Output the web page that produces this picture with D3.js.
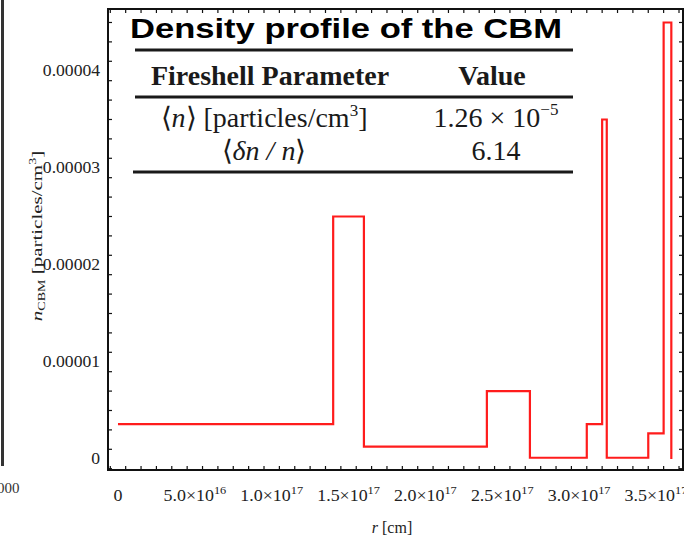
<!DOCTYPE html>
<html>
<head>
<meta charset="utf-8">
<script src="https://cdn.jsdelivr.net/npm/d3@7"></script>
<style>
  body { margin: 0; background: #fff; }
  svg { display: block; }
</style>
</head>
<body>
<div id="chart"></div>
<script>
// step profile of the CBM density: bin edges (cm) and density per bin
var rEdges = [0, 1.4e17, 1.6e17, 2.4e17, 2.68e17, 3.05e17, 3.15e17, 3.18e17, 3.45e17, 3.55e17, 3.6e17];
var density = [3.6e-6, 2.5e-5, 1.27e-6, 7.0e-6, 1.3e-7, 3.6e-6, 3.5e-5, 1.3e-7, 2.65e-6, 4.5e-5];

var xTicks = [0, 5e16, 1e17, 1.5e17, 2e17, 2.5e17, 3e17, 3.5e17];
var xTickMant = ["0", "5.0", "1.0", "1.5", "2.0", "2.5", "3.0", "3.5"];
var xTickExp = ["", "16", "17", "17", "17", "17", "17", "17"];
var yTicks = [0, 1e-5, 2e-5, 3e-5, 4e-5];
var yTickLabels = ["0", "0.00001", "0.00002", "0.00003", "0.00004"];

var tableHeader = ["Fireshell Parameter", "Value"];
var tableValues = ["1.26", "6.14"];

var width = 684;
var height = 539;
var plotLeft = 108, plotRight = 683, plotTop = 9, plotBottom = 470;
var serif = "'Liberation Serif', 'Times New Roman', serif";

var svg = d3.select('#chart')
    .append('svg')
    .attr('width', width)
    .attr('height', height);

svg.append('rect').attr('width', width).attr('height', height).attr('fill', '#fff');

var x = d3.scaleLinear()
    .domain([-6.5e15, 3.676e17])
    .range([plotLeft, plotRight]);

var y = d3.scaleLinear()
    .domain([-1.134e-6, 4.639e-5])
    .range([plotBottom, plotTop]);

// cut-off edge of the neighbouring panel
svg.append('line')
    .attr('x1', 2.5).attr('x2', 2.5).attr('y1', 0).attr('y2', 466)
    .attr('stroke', '#333').attr('stroke-width', 3);
svg.append('text')
    .attr('x', -3).attr('y', 493)
    .attr('font-family', serif).attr('font-size', 15)
    .attr('fill', '#333')
    .text('000');

// ticks, all pointing inside the frame
var xMinor = d3.range(-0.5e16, 3.67e17, 1e16);
var yMinor = d3.range(-0.1e-5, 4.64e-5, 2e-6);

function isMajorX(v) { return Math.abs(v / 5e16 - Math.round(v / 5e16)) < 1e-6; }
function isMajorY(v) { return Math.abs(v / 1e-5 - Math.round(v / 1e-5)) < 1e-6; }

var ticks = svg.append('g').attr('stroke', '#111').attr('stroke-width', 1.2);

xMinor.forEach(function(v){
    var len = isMajorX(v) ? 8 : 4;
    var px = x(v);
    if (px <= plotLeft + 1 || px >= plotRight - 1) return;
    ticks.append('line').attr('x1', px).attr('x2', px).attr('y1', plotBottom).attr('y2', plotBottom - len);
    ticks.append('line').attr('x1', px).attr('x2', px).attr('y1', plotTop).attr('y2', plotTop + len);
});

yMinor.forEach(function(v){
    var len = isMajorY(v) ? 8 : 4;
    var py = y(v);
    if (py >= plotBottom - 1 || py <= plotTop + 1) return;
    ticks.append('line').attr('x1', plotLeft).attr('x2', plotLeft + len).attr('y1', py).attr('y2', py);
    ticks.append('line').attr('x1', plotRight).attr('x2', plotRight - len).attr('y1', py).attr('y2', py);
});

// frame
svg.append('rect')
    .attr('x', plotLeft).attr('y', plotTop)
    .attr('width', plotRight - plotLeft).attr('height', plotBottom - plotTop)
    .attr('fill', 'none').attr('stroke', '#111').attr('stroke-width', 2);

// x tick labels
xTicks.forEach(function(v, i){
    var g = svg.append('g')
        .attr('transform', 'translate(' + x(v) + ',501) scale(1.12,1)');
    var t = g.append('text')
        .attr('text-anchor', 'middle')
        .attr('font-family', serif).attr('font-size', 16)
        .attr('fill', '#222');
    if (xTickExp[i] === '') {
        t.text(xTickMant[i]);
    } else {
        t.append('tspan').text(xTickMant[i] + '\u00d710');
        t.append('tspan').attr('dy', -7).attr('font-size', 11).text(xTickExp[i]);
    }
});

// y tick labels
yTicks.forEach(function(v, i){
    svg.append('g')
        .attr('transform', 'translate(100,' + (y(v) + 5) + ') scale(1.1,1)')
        .append('text')
        .attr('text-anchor', 'end')
        .attr('font-family', serif).attr('font-size', 16)
        .attr('fill', '#222')
        .text(yTickLabels[i]);
});

// axis titles
var xt = svg.append('text')
    .attr('x', 392).attr('y', 533)
    .attr('text-anchor', 'middle')
    .attr('font-family', serif).attr('font-size', 16)
    .attr('fill', '#222');
xt.append('tspan').attr('font-style', 'italic').text('r');
xt.append('tspan').text(' [cm]');

var yt = svg.append('g')
    .attr('transform', 'translate(42,236) rotate(-90) scale(1.4,1)')
    .append('text')
    .attr('text-anchor', 'middle')
    .attr('font-family', serif).attr('font-size', 15)
    .attr('fill', '#222');
yt.append('tspan').attr('font-style', 'italic').text('n');
yt.append('tspan').attr('dy', 3).attr('font-size', 10).text('CBM');
yt.append('tspan').attr('dy', -3).text(' [particles/cm');
yt.append('tspan').attr('dy', -6).attr('font-size', 10).text('3');
yt.append('tspan').attr('dy', 6).text(']');

// density step line
var pts = rEdges.slice(0, density.length).map(function(r, i){ return [r, density[i]]; });
pts.push([rEdges[rEdges.length - 1], 0]);

var line = d3.line()
    .x(function(d){ return x(d[0]); })
    .y(function(d){ return y(d[1]); })
    .curve(d3.curveStepAfter);

svg.append('path')
    .datum(pts)
    .attr('d', line)
    .attr('fill', 'none')
    .attr('stroke', '#ff1c1c')
    .attr('stroke-width', 2.2);

// title and parameter table
svg.append('text')
    .attr('x', 130).attr('y', 38)
    .attr('font-family', "'Liberation Sans', Arial, sans-serif")
    .attr('font-weight', 'bold').attr('font-size', 28)
    .attr('textLength', 432).attr('lengthAdjust', 'spacingAndGlyphs')
    .attr('fill', '#000')
    .text('Density profile of the CBM');

var rules = [[135, 50], [135, 97], [133, 172]];
rules.forEach(function(d){
    svg.append('line')
        .attr('x1', d[0]).attr('x2', 573).attr('y1', d[1]).attr('y2', d[1])
        .attr('stroke', '#1a1a1a').attr('stroke-width', 3);
});

var leftCol = 264, rightCol = 496;

svg.append('text')
    .attr('x', 270).attr('y', 85)
    .attr('text-anchor', 'middle')
    .attr('font-family', serif).attr('font-weight', 'bold').attr('font-size', 28)
    .attr('fill', '#1a1a1a')
    .text(tableHeader[0]);
svg.append('text')
    .attr('x', 492).attr('y', 85)
    .attr('text-anchor', 'middle')
    .attr('font-family', serif).attr('font-weight', 'bold').attr('font-size', 28)
    .attr('fill', '#1a1a1a')
    .text(tableHeader[1]);

var r1 = svg.append('text')
    .attr('x', leftCol).attr('y', 127)
    .attr('text-anchor', 'middle')
    .attr('font-family', serif).attr('font-size', 28)
    .attr('fill', '#1a1a1a');
r1.append('tspan').text('\u27e8');
r1.append('tspan').attr('font-style', 'italic').text('n');
r1.append('tspan').text('\u27e9 [particles/cm');
r1.append('tspan').attr('dy', -11).attr('font-size', 17).text('3');
r1.append('tspan').attr('dy', 11).text(']');

var r2 = svg.append('text')
    .attr('x', leftCol).attr('y', 160)
    .attr('text-anchor', 'middle')
    .attr('font-family', serif).attr('font-size', 28)
    .attr('fill', '#1a1a1a');
r2.append('tspan').text('\u27e8');
r2.append('tspan').attr('font-style', 'italic').text('\u03b4n / n');
r2.append('tspan').text('\u27e9');

var v1 = svg.append('text')
    .attr('x', rightCol).attr('y', 127)
    .attr('text-anchor', 'middle')
    .attr('font-family', serif).attr('font-size', 28)
    .attr('fill', '#1a1a1a');
v1.append('tspan').text(tableValues[0] + ' \u00d7 10');
v1.append('tspan').attr('dy', -12).attr('font-size', 17).text('\u22125');

svg.append('text')
    .attr('x', rightCol).attr('y', 160)
    .attr('text-anchor', 'middle')
    .attr('font-family', serif).attr('font-size', 28)
    .attr('fill', '#1a1a1a')
    .text(tableValues[1]);
</script>
</body>
</html>
